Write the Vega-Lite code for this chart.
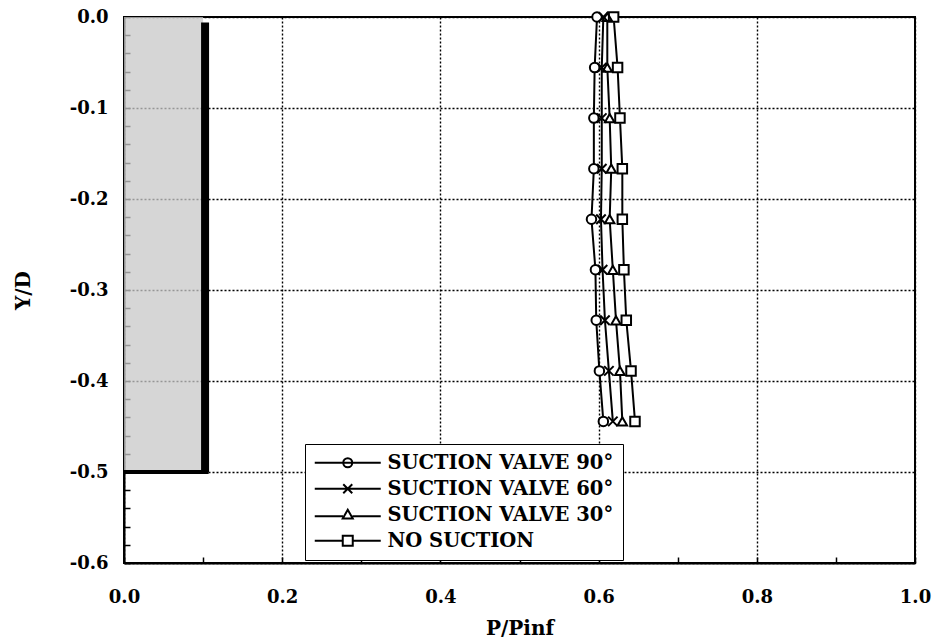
{
  "$schema": "https://vega.github.io/schema/vega-lite/v6.json",
  "width": 791,
  "height": 546,
  "autosize": "none",
  "padding": {"left": 124, "top": 17, "right": 25, "bottom": 77},
  "background": "white",
  "config": {
    "view": {"stroke": "black", "strokeWidth": 2},
    "font": "DejaVu Serif",
    "axis": {
      "domainColor": "black",
      "domainWidth": 2,
      "tickColor": "black",
      "tickWidth": 1.5,
      "gridColor": "black",
      "gridDash": [2, 2],
      "gridWidth": 1.4,
      "labelFont": "DejaVu Serif",
      "labelFontWeight": "bold",
      "labelFontSize": 18,
      "labelColor": "black",
      "labelOverlap": false,
      "labelFlush": false,
      "titleFont": "DejaVu Serif",
      "titleFontWeight": "bold",
      "titleFontSize": 20,
      "titleColor": "black"
    }
  },
  "resolve": {"scale": {"shape": "independent"}},
  "datasets": {
    "profiles": [
      {"series": "SUCTION VALVE 90°", "x": 0.598, "y": 0},
      {"series": "SUCTION VALVE 90°", "x": 0.595, "y": -0.0556},
      {"series": "SUCTION VALVE 90°", "x": 0.594, "y": -0.1111},
      {"series": "SUCTION VALVE 90°", "x": 0.594, "y": -0.1667},
      {"series": "SUCTION VALVE 90°", "x": 0.591, "y": -0.2222},
      {"series": "SUCTION VALVE 90°", "x": 0.596, "y": -0.2778},
      {"series": "SUCTION VALVE 90°", "x": 0.597, "y": -0.3333},
      {"series": "SUCTION VALVE 90°", "x": 0.601, "y": -0.3889},
      {"series": "SUCTION VALVE 90°", "x": 0.606, "y": -0.4444},
      {"series": "SUCTION VALVE 60°", "x": 0.606, "y": 0},
      {"series": "SUCTION VALVE 60°", "x": 0.604, "y": -0.0556},
      {"series": "SUCTION VALVE 60°", "x": 0.604, "y": -0.1111},
      {"series": "SUCTION VALVE 60°", "x": 0.604, "y": -0.1667},
      {"series": "SUCTION VALVE 60°", "x": 0.603, "y": -0.2222},
      {"series": "SUCTION VALVE 60°", "x": 0.605, "y": -0.2778},
      {"series": "SUCTION VALVE 60°", "x": 0.608, "y": -0.3333},
      {"series": "SUCTION VALVE 60°", "x": 0.613, "y": -0.3889},
      {"series": "SUCTION VALVE 60°", "x": 0.618, "y": -0.4444},
      {"series": "SUCTION VALVE 30°", "x": 0.611, "y": 0},
      {"series": "SUCTION VALVE 30°", "x": 0.611, "y": -0.0556},
      {"series": "SUCTION VALVE 30°", "x": 0.614, "y": -0.1111},
      {"series": "SUCTION VALVE 30°", "x": 0.616, "y": -0.1667},
      {"series": "SUCTION VALVE 30°", "x": 0.614, "y": -0.2222},
      {"series": "SUCTION VALVE 30°", "x": 0.618, "y": -0.2778},
      {"series": "SUCTION VALVE 30°", "x": 0.622, "y": -0.3333},
      {"series": "SUCTION VALVE 30°", "x": 0.627, "y": -0.3889},
      {"series": "SUCTION VALVE 30°", "x": 0.630, "y": -0.4444},
      {"series": "NO SUCTION", "x": 0.619, "y": 0},
      {"series": "NO SUCTION", "x": 0.624, "y": -0.0556},
      {"series": "NO SUCTION", "x": 0.627, "y": -0.1111},
      {"series": "NO SUCTION", "x": 0.630, "y": -0.1667},
      {"series": "NO SUCTION", "x": 0.630, "y": -0.2222},
      {"series": "NO SUCTION", "x": 0.632, "y": -0.2778},
      {"series": "NO SUCTION", "x": 0.635, "y": -0.3333},
      {"series": "NO SUCTION", "x": 0.641, "y": -0.3889},
      {"series": "NO SUCTION", "x": 0.646, "y": -0.4444}
    ],
    "body": [
      {"x0": 0, "x1": 0.1, "y0": 0, "y1": -0.5}
    ],
    "wall": [
      {"x": 0.1025, "ytop": -0.006, "ybot": -0.5}
    ],
    "base": [
      {"x0": 0, "x1": 0.107, "y": -0.5}
    ]
  },
  "layer": [
    {
      "data": {"name": "body"},
      "mark": {"type": "rect", "fill": "#c8c8c8", "opacity": 0.75},
      "encoding": {
        "x": {
          "field": "x0", "type": "quantitative",
          "scale": {"domain": [0, 1], "nice": false},
          "axis": {
            "title": "P/Pinf",
            "titlePadding": 12,
            "values": [0, 0.1, 0.2, 0.3, 0.4, 0.5, 0.6, 0.7, 0.8, 0.9, 1.0],
            "tickCount": 100,
            "tickSize": -6,
            "labelPadding": 31,
            "labelExpr": "abs(datum.value*5 - round(datum.value*5)) < 0.001 ? format(datum.value, '.1f') : ''",
            "gridOpacity": {"condition": {"test": "abs(datum.value*5 - round(datum.value*5)) < 0.001", "value": 1}, "value": 0}
          }
        },
        "x2": {"field": "x1"},
        "y": {
          "field": "y0", "type": "quantitative",
          "scale": {"domain": [-0.6, 0], "nice": false},
          "axis": {
            "title": "Y/D",
            "titlePadding": 36,
            "values": [0, -0.02, -0.04, -0.06, -0.08, -0.1, -0.12, -0.14, -0.16, -0.18, -0.2, -0.22, -0.24, -0.26, -0.28, -0.3, -0.32, -0.34, -0.36, -0.38, -0.4, -0.42, -0.44, -0.46, -0.48, -0.5, -0.52, -0.54, -0.56, -0.58, -0.6],
            "tickCount": 100,
            "tickSize": -6,
            "labelPadding": 22,
            "labelExpr": "abs(datum.value*10 - round(datum.value*10)) < 0.001 ? replace(format(datum.value, '.1f'), '\u2212', '-') : ''",
            "gridOpacity": {"condition": {"test": "abs(datum.value*10 - round(datum.value*10)) < 0.001", "value": 1}, "value": 0}
          }
        },
        "y2": {"field": "y1"}
      }
    },
    {
      "data": {"name": "wall"},
      "mark": {"type": "rule", "color": "black", "strokeWidth": 8},
      "encoding": {
        "x": {"field": "x", "type": "quantitative"},
        "y": {"field": "ytop", "type": "quantitative"},
        "y2": {"field": "ybot"}
      }
    },
    {
      "data": {"name": "base"},
      "mark": {"type": "rule", "color": "black", "strokeWidth": 4},
      "encoding": {
        "x": {"field": "x0", "type": "quantitative"},
        "x2": {"field": "x1"},
        "y": {"field": "y", "type": "quantitative"}
      }
    },
    {
      "data": {"name": "profiles"},
      "mark": {"type": "line", "color": "black", "strokeWidth": 2},
      "encoding": {
        "x": {"field": "x", "type": "quantitative"},
        "y": {"field": "y", "type": "quantitative"},
        "detail": {"field": "series"},
        "order": {"field": "y", "type": "quantitative"}
      }
    },
    {
      "data": {"name": "profiles"},
      "transform": [{"filter": "datum.series == 'SUCTION VALVE 90°'"}],
      "mark": {"type": "point", "shape": "circle", "filled": true, "color": "white", "size": 80, "opacity": 1},
      "encoding": {
        "x": {"field": "x", "type": "quantitative"},
        "y": {"field": "y", "type": "quantitative"}
      }
    },
    {
      "data": {"name": "profiles"},
      "transform": [{"filter": "datum.series == 'SUCTION VALVE 30°'"}],
      "mark": {"type": "point", "shape": "triangle-up", "filled": true, "color": "white", "size": 80, "opacity": 1},
      "encoding": {
        "x": {"field": "x", "type": "quantitative"},
        "y": {"field": "y", "type": "quantitative"}
      }
    },
    {
      "data": {"name": "profiles"},
      "transform": [{"filter": "datum.series == 'NO SUCTION'"}],
      "mark": {"type": "point", "shape": "square", "filled": true, "color": "white", "size": 110, "opacity": 1},
      "encoding": {
        "x": {"field": "x", "type": "quantitative"},
        "y": {"field": "y", "type": "quantitative"}
      }
    },
    {
      "data": {"name": "profiles"},
      "mark": {"type": "point", "filled": false, "color": "black", "strokeWidth": 2, "size": 90, "opacity": 1},
      "encoding": {
        "x": {"field": "x", "type": "quantitative"},
        "y": {"field": "y", "type": "quantitative"},
        "shape": {
          "field": "series", "type": "nominal",
          "scale": {
            "domain": ["SUCTION VALVE 90°", "SUCTION VALVE 60°", "SUCTION VALVE 30°", "NO SUCTION"],
            "range": ["circle", "M-1,-1L1,1M-1,1L1,-1", "triangle-up", "square"]
          },
          "legend": null
        }
      }
    },
    {
      "data": {"name": "profiles"},
      "transform": [{"filter": "datum.x > 10"}],
      "mark": {"type": "point", "filled": false, "color": "black", "strokeWidth": 2, "size": 100, "opacity": 1},
      "encoding": {
        "x": {"field": "x", "type": "quantitative"},
        "y": {"field": "y", "type": "quantitative"},
        "shape": {
          "field": "series", "type": "nominal",
          "scale": {
            "domain": ["SUCTION VALVE 90°", "SUCTION VALVE 60°", "SUCTION VALVE 30°", "NO SUCTION"],
            "range": [
              "M-6.6,0H6.6M-0.9,0A0.9,0.9 0 1,0 0.9,0A0.9,0.9 0 1,0 -0.9,0Z",
              "M-6.6,0H6.6M-0.9,-0.9L0.9,0.9M-0.9,0.9L0.9,-0.9",
              "M-6.6,0.3H-0.95M0.95,0.3H6.6M0,-1L1,0.75H-1Z",
              "M-6.6,0H-1M1,0H6.6M-1,-1H1V1H-1Z"
            ]
          },
          "legend": {
            "title": null,
            "orient": "none",
            "legendX": 181,
            "legendY": 427,
            "fillColor": "white",
            "strokeColor": "black",
            "padding": 9,
            "labelFont": "DejaVu Serif",
            "labelFontWeight": "bold",
            "labelFontSize": 19.5,
            "labelColor": "black",
            "labelLimit": 400,
            "symbolSize": 100,
            "symbolOffset": 24,
            "labelOffset": 30,
            "rowPadding": 5,
            "symbolStrokeWidth": 2,
            "symbolOpacity": 1
          }
        }
      }
    }
  ]
}
